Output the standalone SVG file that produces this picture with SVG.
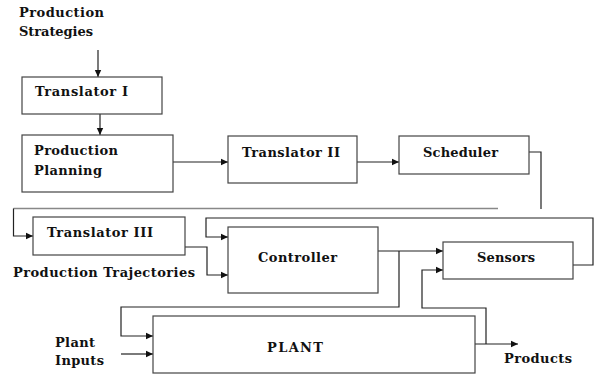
<svg xmlns="http://www.w3.org/2000/svg" width="597" height="376" viewBox="0 0 597 376">
<style>
.box{fill:#fff;stroke:#444;stroke-width:1.2}
.t{font-family:"DejaVu Serif","Liberation Serif",serif;font-weight:bold;font-size:13px;fill:#111}
.c{fill:none;stroke:#222;stroke-width:1.2}
.g{fill:none;stroke:#888;stroke-width:1.5}
</style>
<defs>
<marker id="ah" markerWidth="8" markerHeight="8" refX="7" refY="4" orient="auto" markerUnits="userSpaceOnUse">
<path d="M0,0.8 L7,4 L0,7.2 Z" fill="#111"/>
</marker>
</defs>
<rect width="597" height="376" fill="#fff"/>
<g id="connectors">
<path class="c" d="M98,50 V77" marker-end="url(#ah)"/>
<path class="c" d="M100,114 V135" marker-end="url(#ah)"/>
<path class="c" d="M173,162 H228" marker-end="url(#ah)"/>
<path class="c" d="M357,162 H399" marker-end="url(#ah)"/>
<path class="c" d="M529,152 H541 V209"/>
<path class="g" d="M498,208.5 H13.5"/>
<path class="c" d="M13.5,208.5 V236 H33" marker-end="url(#ah)"/>
<path class="c" d="M185,247 H207 V275 H228" marker-end="url(#ah)"/>
<path class="c" d="M573,265 H593 V218 H206 V237 H228" marker-end="url(#ah)"/>
<path class="c" d="M378,251 H443" marker-end="url(#ah)"/>
<path class="c" d="M399,251 V307 H121 V336 H153" marker-end="url(#ah)"/>
<path class="c" d="M121,354 H153" marker-end="url(#ah)"/>
<path class="c" d="M475,344 H518" marker-end="url(#ah)"/>
<path class="c" d="M486,344 V308 H422 V270 H443" marker-end="url(#ah)"/>
</g>
<g id="strategies">
<text class="t" x="19" y="17" textLength="85" lengthAdjust="spacing">Production</text>
<text class="t" x="19" y="36" textLength="74" lengthAdjust="spacing">Strategies</text>
</g>
<g id="translator1">
<rect class="box" x="22" y="77" width="140" height="37"/>
<text class="t" x="35" y="96" textLength="93" lengthAdjust="spacing">Translator I</text>
</g>
<g id="planning">
<rect class="box" x="22" y="135" width="151" height="57"/>
<text class="t" x="34" y="155" textLength="84" lengthAdjust="spacing">Production</text>
<text class="t" x="34" y="175" textLength="68" lengthAdjust="spacing">Planning</text>
</g>
<g id="translator2">
<rect class="box" x="228" y="136" width="129" height="47"/>
<text class="t" x="242" y="157" textLength="98" lengthAdjust="spacing">Translator II</text>
</g>
<g id="scheduler">
<rect class="box" x="399" y="136" width="130" height="38"/>
<text class="t" x="423" y="157" textLength="75" lengthAdjust="spacing">Scheduler</text>
</g>
<g id="translator3">
<rect class="box" x="33" y="217" width="152" height="38"/>
<text class="t" x="47" y="237" textLength="106" lengthAdjust="spacing">Translator III</text>
</g>
<g id="trajectories">
<text class="t" x="13" y="277" textLength="182" lengthAdjust="spacing">Production Trajectories</text>
</g>
<g id="controller">
<rect class="box" x="228" y="227" width="150" height="66"/>
<text class="t" x="258" y="262" textLength="79" lengthAdjust="spacing">Controller</text>
</g>
<g id="sensors">
<rect class="box" x="443" y="242" width="130" height="37"/>
<text class="t" x="477" y="262" textLength="58" lengthAdjust="spacing">Sensors</text>
</g>
<g id="plantinputs">
<text class="t" x="55" y="347" textLength="40" lengthAdjust="spacing">Plant</text>
<text class="t" x="55" y="365" textLength="49" lengthAdjust="spacing">Inputs</text>
</g>
<g id="plant">
<rect class="box" x="153" y="316" width="322" height="57"/>
<text class="t" x="267" y="352" textLength="56" lengthAdjust="spacing">PLANT</text>
</g>
<g id="products">
<text class="t" x="504" y="363" textLength="68" lengthAdjust="spacing">Products</text>
</g>
</svg>
